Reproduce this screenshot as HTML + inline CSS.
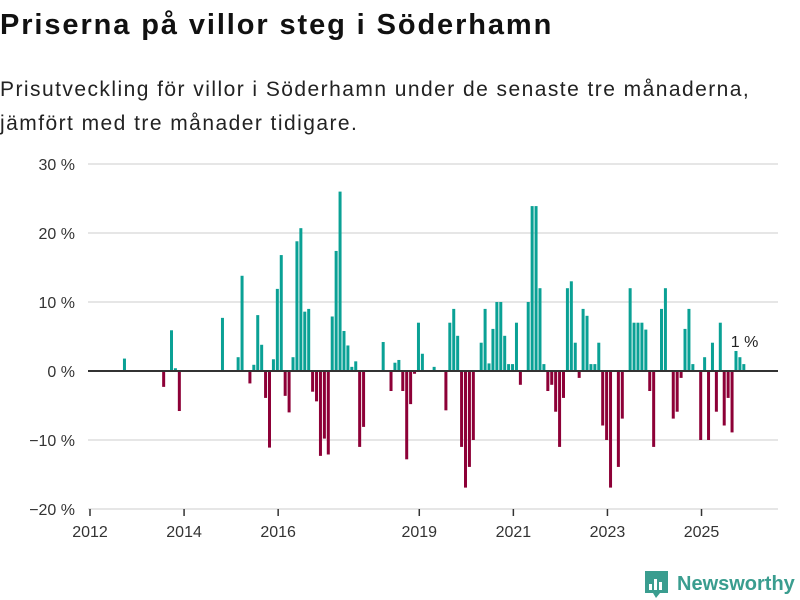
<!DOCTYPE html>
<html><head><meta charset="utf-8"><style>
body{margin:0;background:#fff;font-family:"Liberation Sans",sans-serif;}
#wrap{position:relative;width:800px;height:600px;overflow:hidden;}
h1{position:absolute;left:0;top:9px;margin:0;font-size:29px;font-weight:bold;color:#111;letter-spacing:1.9px}
.sub{position:absolute;left:0;top:73px;margin:0;font-size:21px;line-height:34px;color:#222;letter-spacing:1.45px}
</style></head><body>
<div id="wrap">
<h1>Priserna på villor steg i Söderhamn</h1>
<p class="sub">Prisutveckling för villor i Söderhamn under de senaste tre månaderna,<br>jämfört med tre månader tidigare.</p>
<svg id="chart" width="800" height="600" style="position:absolute;left:0;top:0"></svg>
</div>
<script>
const monthIdx=[8,18,20,21,22,33,37,38,40,41,42,43,44,45,46,47,48,49,50,51,52,53,54,55,56,57,58,59,60,61,62,63,64,65,66,67,68,69,74,76,77,78,79,80,81,82,83,84,87,90,91,92,93,94,95,96,97,99,100,101,102,103,104,105,106,107,108,109,111,112,113,114,115,116,117,118,119,120,121,122,123,124,125,126,127,128,129,130,131,132,134,135,137,138,139,140,141,142,143,145,146,148,149,150,151,152,153,155,156,157,158,159,160,161,162,163,164,165,166];
const values=[1.8,-2.3,5.9,0.4,-5.8,7.7,2,13.8,-1.8,0.9,8.1,3.8,-3.9,-11.1,1.7,11.9,16.8,-3.6,-6,2,18.8,20.7,8.6,9,-3,-4.4,-12.3,-9.8,-12.1,7.9,17.4,26,5.8,3.7,0.6,1.4,-11,-8.1,4.2,-2.9,1.2,1.6,-2.9,-12.8,-4.8,-0.4,7,2.5,0.6,-5.7,7,9,5.1,-11,-16.9,-13.9,-10,4.1,9,1.1,6.1,10,10,5.1,1,1,7,-2,10,23.9,23.9,12,1,-2.9,-2,-5.9,-11,-3.9,12,13,4.1,-1,9,8,1,1,4.1,-7.9,-10,-16.9,-13.9,-6.9,12,7,7,7,6,-2.9,-11,9,12,-6.9,-5.9,-1,6.1,9,1,-10,2,-10,4.1,-5.9,7,-7.9,-3.9,-8.9,2.9,2,1];
const yTicks=[30,20,10,0,-10,-20];
const xTickYears=[2012,2014,2016,2019,2021,2023,2025];
const lastLabel="1 %";

const svg=document.getElementById('chart');
const NS="http://www.w3.org/2000/svg";
const x=m=>90+m*3.92;
const y=v=>371-v*6.9;
function mk(t,a){const e=document.createElementNS(NS,t);for(const k in a)e.setAttribute(k,a[k]);svg.appendChild(e);return e;}
yTicks.forEach(t=>{
  if(t!==0){const g=mk('line',{x1:88,x2:778,y1:y(t),y2:y(t),stroke:'#dedede','stroke-width':1.5});
  
  }
  const l=mk('text',{x:75,y:y(t)+6,'text-anchor':'end','font-size':16,fill:'#333'});
  l.textContent=(t<0?'\u2212'+(-t):t)+' %';
  
  
});
xTickYears.forEach(yr=>{
  const xx=x((yr-2012)*12);
  const tk=mk('line',{x1:xx,x2:xx,y1:509,y2:516,stroke:'#333','stroke-width':1.5});
  
  
  const l=mk('text',{x:xx,y:537,'text-anchor':'middle','font-size':16,fill:'#333'});
  l.textContent=yr;
  
  
});
monthIdx.forEach((m,i)=>{
  const v=values[i];
  const top=Math.min(y(v),y(0)),h=Math.abs(y(v)-y(0));
  const r=mk('rect',{x:x(m)+1.6,y:top,width:3,height:h,fill:v>=0?'#0aa195':'#8d0037'});
  
  
});
const z=mk('line',{x1:88,x2:778,y1:y(0),y2:y(0),stroke:'#333','stroke-width':2});


const lm=monthIdx[monthIdx.length-1];
const lb=mk('text',{x:x(lm)-10,y:y(values[values.length-1])-17,'font-size':16,fill:'#222'});
lb.textContent=lastLabel;


const lg=mk('g',{});


const icon=document.createElementNS(NS,'path');
icon.setAttribute('d','M645 571h23v22h-8l-4 5-3-5h-8z');
icon.setAttribute('fill','#3a9d8f');
lg.appendChild(icon);
[[649,584,3,6],[654,579,3,11],[659,582,3,8]].forEach(b=>{const r=document.createElementNS(NS,'rect');r.setAttribute('x',b[0]);r.setAttribute('y',b[1]);r.setAttribute('width',b[2]);r.setAttribute('height',b[3]);r.setAttribute('fill','#fff');lg.appendChild(r);});
const lt=document.createElementNS(NS,'text');
lt.setAttribute('x',677);lt.setAttribute('y',590);lt.setAttribute('font-size',20);lt.setAttribute('font-weight','bold');lt.setAttribute('fill','#3a9d8f');
lt.textContent='Newsworthy';
lg.appendChild(lt);
</script>
</body></html>
